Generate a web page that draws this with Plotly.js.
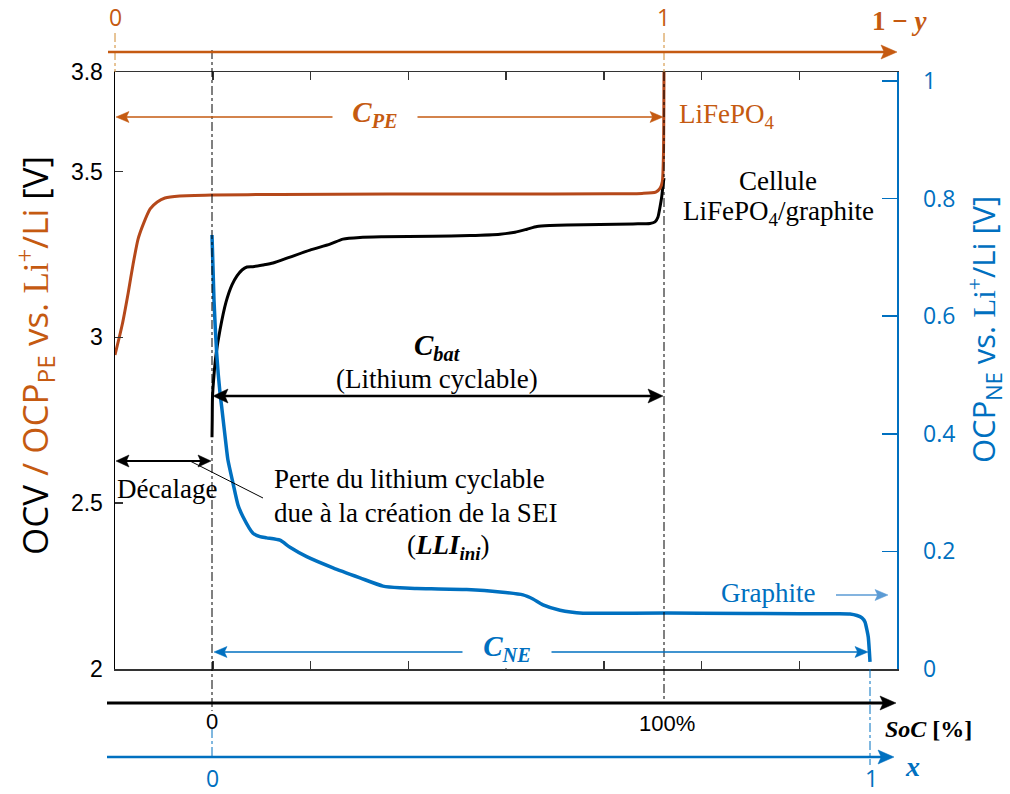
<!DOCTYPE html>
<html><head><meta charset="utf-8">
<script src="https://cdn.plot.ly/plotly-3.0.1.min.js"></script>
<style>html,body{margin:0;padding:0;background:#fff}#chart{width:1010px;height:794px}</style>
</head><body><div id="chart"></div>
<script>
// ---------------- data ----------------
// Cell OCV (LiFePO4/graphite) vs SoC [%]
const socCell = [0, 0.05, 0.11, 0.44, 0.88, 1.77, 3.10, 4.42, 5.53, 6.64, 7.74, 9.07, 11.28, 13.50, 17.26, 21.68, 26.11, 28.98, 32.74, 37.83, 48.89, 57.08, 63.72, 67.04, 69.69, 71.90, 74.78, 78.54, 85.84, 93.14, 96.90, 98.01, 98.67, 99.12, 99.49, 99.78, 100];
const ocvCell = [2.699, 2.751, 2.820, 2.886, 2.947, 3.022, 3.106, 3.158, 3.185, 3.203, 3.212, 3.213, 3.218, 3.224, 3.242, 3.263, 3.281, 3.296, 3.301, 3.303, 3.305, 3.307, 3.311, 3.317, 3.326, 3.334, 3.337, 3.339, 3.340, 3.342, 3.343, 3.348, 3.363, 3.393, 3.423, 3.459, 3.480];
// Positive electrode OCP (LiFePO4) vs 1-y
const pe1my = [0, 0.013, 0.024, 0.033, 0.042, 0.051, 0.064, 0.077, 0.091, 0.118, 0.179, 0.3, 0.5, 0.7, 0.9, 0.96, 0.985, 0.993, 0.997, 0.999, 1.0];
const ocpPE = [2.947, 3.037, 3.134, 3.221, 3.296, 3.339, 3.387, 3.408, 3.420, 3.426, 3.429, 3.431, 3.432, 3.432, 3.433, 3.434, 3.438, 3.450, 3.470, 3.550, 3.800];
// Negative electrode OCP (graphite) vs x
const xNE = [0, 0.003, 0.0071, 0.0122, 0.0147, 0.0223, 0.0243, 0.0319, 0.0395, 0.0471, 0.0623, 0.0729, 0.0831, 0.1033, 0.1185, 0.1439, 0.1839, 0.2249, 0.2599, 0.2857, 0.3111, 0.3871, 0.4377, 0.4726, 0.4878, 0.5030, 0.5289, 0.5638, 0.6398, 0.7416, 0.8936, 0.9494, 0.9696, 0.9802, 0.9878, 0.9924, 0.9954, 0.9974, 0.9989, 1.0];
const ocpNE = [0.738, 0.628, 0.537, 0.469, 0.446, 0.372, 0.355, 0.316, 0.279, 0.259, 0.231, 0.225, 0.223, 0.219, 0.207, 0.191, 0.172, 0.155, 0.141, 0.138, 0.137, 0.135, 0.131, 0.126, 0.119, 0.109, 0.100, 0.095, 0.095, 0.095, 0.094, 0.094, 0.0935, 0.091, 0.087, 0.080, 0.066, 0.054, 0.032, 0.012];
// tick labels
const yLeftTicks = [2, 2.5, 3, 3.5, 3.8];
const yLeftText = ['2', '2.5', '3', '3.5', '3.8'];
const yRightTicks = [0, 0.2, 0.4, 0.6, 0.8, 1];
const yRightText = ['0', '0.2', '0.4', '0.6', '0.8', '1'];
const socTicks = [0, 100];
const socText = ['0', '100%'];
const peTicks = [0, 1];
const peText = ['0', '1'];
const neTicks = [0, 1];
const neText = ['0', '1'];

// ---------------- layout geometry ----------------
const W = 1010, H = 794;
const PL = 115, PR = 897, PT = 72, PB = 669;
const socRange = [(PL - 212) / 4.52, (PR - 212) / 4.52];
const peRange = [0, (PR - PL) / 549];
const neRange = [(PL - 212) / 658, (PR - 212) / 658];
const yLRange = [2, 3.8];
const yRRange = [0, (PB - PT) / 588];

const ORANGE = '#C55A11', PECOL = '#B5481A', BLUE = '#0070C0', LBLUE = '#5B9BD5';
const SERIF = 'Liberation Serif', SANS = 'Liberation Sans', CAL = 'Open Sans';

const fx = px => (px - PL) / (PR - PL);
const fy = py => (PB - py) / (PB - PT);
const lin = (v, r) => PL + (v - r[0]) / (r[1] - r[0]) * (PR - PL);
const socPx = v => lin(v, socRange), pePx = v => lin(v, peRange), nePx = v => lin(v, neRange);

function seg(x0, y0, x1, y1, color, width, dash) {
  return {type: 'line', xref: 'paper', yref: 'paper', x0: fx(x0), y0: fy(y0), x1: fx(x1), y1: fy(y1),
    line: {color: color, width: width, dash: dash || 'solid'}, layer: 'above'};
}
// arrow = line + filled (notched) triangular heads, all as shapes
function arrowShapes(x0, y0, x1, y1, color, width, both, L, Wd) {
  const len = Math.hypot(x1 - x0, y1 - y0), dx = (x1 - x0) / len, dy = (y1 - y0) / len;
  const head = (tx, ty, ux, uy) => {
    const bx = tx - ux * L, by = ty - uy * L, nx = -uy, ny = ux;
    const c1 = [bx + nx * Wd, by + ny * Wd], c2 = [bx - nx * Wd, by - ny * Wd];
    const nt = [tx - ux * L * 0.8, ty - uy * L * 0.8];
    return {type: 'path', xref: 'paper', yref: 'paper', layer: 'above', fillcolor: color,
      line: {color: color, width: 0.5},
      path: 'M' + fx(tx) + ',' + fy(ty) + ' L' + fx(c1[0]) + ',' + fy(c1[1]) + ' L' + fx(nt[0]) + ',' + fy(nt[1]) +
            ' L' + fx(c2[0]) + ',' + fy(c2[1]) + ' Z'};
  };
  const out = [];
  let sx = x0, sy = y0;
  if (both) { sx = x0 + dx * L * 0.7; sy = y0 + dy * L * 0.7; out.push(head(x0, y0, -dx, -dy)); }
  out.push(seg(sx, sy, x1 - dx * L * 0.7, y1 - dy * L * 0.7, color, width));
  out.push(head(x1, y1, dx, dy));
  return out;
}
function label(text, x, y, font, extra) {
  return Object.assign({xref: 'paper', yref: 'paper', x: fx(x), y: fy(y), text: text, showarrow: false,
    font: font, xanchor: 'center', yanchor: 'middle'}, extra || {});
}

// positions derived from the data scales
const s0 = socPx(socTicks[0]), s100 = socPx(socTicks[1]);
const pe0 = pePx(peTicks[0]), pe1 = pePx(peTicks[1]);
const ne0 = nePx(neTicks[0]), ne1 = nePx(neTicks[1]);
const yTopAxis = 52, ySocAxis = 703, yNeAxis = 757;

const traces = [
  {x: pe1my, y: ocpPE, xaxis: 'x2', yaxis: 'y', mode: 'lines', line: {color: PECOL, width: 3, shape: 'spline', smoothing: 0.6}, name: 'LiFePO4', hoverinfo: 'skip'},
  {x: socCell, y: ocvCell, xaxis: 'x', yaxis: 'y', mode: 'lines', line: {color: '#000', width: 3, shape: 'spline', smoothing: 0.6}, name: 'Cellule', hoverinfo: 'skip'},
  {x: xNE, y: ocpNE, xaxis: 'x3', yaxis: 'y2', mode: 'lines', line: {color: BLUE, width: 3.5, shape: 'spline', smoothing: 0.6}, name: 'Graphite', hoverinfo: 'skip'}
];

const shapes = [
  seg(s0, 50, s0, ySocAxis + 8, '#000', 1, 'dashdot'),
  seg(s0, ySocAxis + 26, s0, yNeAxis, BLUE, 1, 'dashdot'),
  seg(s100, PT, s100, ySocAxis, '#000', 1, 'dashdot'),
  seg(pe0, 33, pe0, PT, '#D08A2E', 1, 'dashdot'),
  seg(pe1, 33, pe1, PT, '#D08A2E', 1, 'dashdot'),
  seg(ne1, PB, ne1, yNeAxis + 8, BLUE, 1, 'dashdot'),
  seg(190, 461, 263, 498, '#000', 1)
].concat(
  // secondary axes
  arrowShapes(108, yTopAxis, 897, yTopAxis, ORANGE, 2.5, false, 16, 7),
  arrowShapes(107, ySocAxis, 896, ySocAxis, '#000', 3, false, 16, 7),
  arrowShapes(107, yNeAxis, 894, yNeAxis, BLUE, 2.5, false, 16, 7),
  // capacity arrows
  arrowShapes(pe0 + 1, 117, pe1 - 1, 117, ORANGE, 1.5, true, 13, 5.5),
  arrowShapes(s0 + 1, 396, s100 - 1, 396, '#000', 2.5, true, 15, 7),
  arrowShapes(pe0 + 1, 461, s0 - 1, 461, '#000', 2, true, 13, 6),
  arrowShapes(ne0 + 2, 652, ne1 - 2, 652, BLUE, 1.5, true, 13, 5.5),
  arrowShapes(836, 595, 888, 595, LBLUE, 1.5, false, 13, 5.5)
);

const fCal = (c, s) => ({family: CAL, size: s, color: c});
const fSerif = (c, s) => ({family: SERIF, size: s, color: c});

const annotations = [
  // axis titles (rotated)
  label('<span style="color:#000">OCV</span> / OCP<sub>PE</sub> vs. <span style="font-family:Liberation Serif">Li<sup>+</sup></span>/Li <span style="color:#000">[V]</span>',
    36, 356, {family: CAL, size: 35, color: ORANGE}, {textangle: -90}),
  label('OCP<sub>NE</sub> vs. <span style="font-family:Liberation Serif">Li<sup>+</sup></span>/Li [V]',
    985, 330, {family: CAL, size: 31, color: BLUE}, {textangle: -90}),
  // secondary axis labels
  label(peText[0], pe0, 17, fCal(ORANGE, 23)),
  label(peText[1], pe1, 17, fCal(ORANGE, 23)),
  label('<b>1 − <i>y</i></b>', 900, 21, fSerif(ORANGE, 27)),
  label(socText[0], s0, 721, {family: SANS, size: 22, color: '#000'}),
  label(socText[1], s100 + 3, 723, {family: SANS, size: 22, color: '#000'}),
  label('<b><i>SoC</i> [%]</b>', 928, 729, fSerif('#000', 24)),
  label(neText[0], ne0, 778, fCal(BLUE, 23)),
  label(neText[1], ne1 + 1, 778, fCal(BLUE, 23)),
  label('<b><i>x</i></b>', 912, 767, fSerif(BLUE, 28)),
  // capacity labels and texts
  label('<b><i>C</i></b><sub><b><i>PE</i></b></sub>', 375, 114, fSerif(ORANGE, 29), {bgcolor: '#fff', borderpad: 2, width: 80}),
  label('LiFePO<sub>4</sub>', 727, 116, fSerif(ORANGE, 27)),
  label('Cellule', 778, 181, fSerif('#000', 27)),
  label('LiFePO<sub>4</sub>/graphite', 778, 213, fSerif('#000', 27)),
  label('<b><i>C</i></b><sub><b><i>bat</i></b></sub>', 437, 347, fSerif('#000', 29)),
  label('(Lithium cyclable)', 437, 379, fSerif('#000', 27)),
  label('Décalage', 167, 489, fSerif('#000', 27)),
  label('Perte du lithium cyclable', 272, 479, fSerif('#000', 27), {xanchor: 'left'}),
  label('due à la création de la SEI', 272, 513, fSerif('#000', 27), {xanchor: 'left'}),
  label('(<b><i>LLI</i></b><sub><b><i>ini</i></b></sub>)', 448, 547, fSerif('#000', 27)),
  label('<b><i>C</i></b><sub><b><i>NE</i></b></sub>', 507, 648, fSerif(BLUE, 29), {bgcolor: '#fff', borderpad: 2, width: 84}),
  label('Graphite', 768, 593, fSerif(BLUE, 27))
];

const layout = {
  width: W, height: H,
  margin: {l: PL, r: W - PR, t: PT, b: H - PB, pad: 0},
  paper_bgcolor: '#fff', plot_bgcolor: '#fff',
  showlegend: false,
  xaxis: {range: socRange, showgrid: false, zeroline: false, showline: true, linecolor: '#333', linewidth: 1.5,
    mirror: 'ticks', ticks: 'inside', ticklen: 8, tickwidth: 1.5, tickcolor: '#333',
    tick0: socRange[0], dtick: (socRange[1] - socRange[0]) / 8, showticklabels: false, fixedrange: true},
  xaxis2: {range: peRange, overlaying: 'x', visible: false, fixedrange: true},
  xaxis3: {range: neRange, overlaying: 'x', visible: false, fixedrange: true},
  yaxis: {range: yLRange, showgrid: false, zeroline: false, showline: true, linecolor: '#000', linewidth: 1.5,
    ticks: 'inside', ticklen: 8, tickwidth: 1.5, tickcolor: '#333',
    tickmode: 'array', tickvals: yLeftTicks, ticktext: yLeftText, ticklabelstandoff: 6,
    tickfont: {family: SANS, size: 23, color: '#000'}, fixedrange: true},
  yaxis2: {range: yRRange, overlaying: 'y', side: 'right', showgrid: false, zeroline: false, showline: true,
    linecolor: BLUE, linewidth: 1.5, ticks: 'inside', ticklen: 15, tickwidth: 1.5, tickcolor: BLUE,
    tickmode: 'array', tickvals: yRightTicks, ticktext: yRightText, ticklabelstandoff: 20,
    tickfont: {family: CAL, size: 23, color: BLUE}, fixedrange: true},
  shapes: shapes,
  annotations: annotations
};

Plotly.newPlot('chart', traces, layout, {displayModeBar: false, staticPlot: true});
</script>
</body></html>
